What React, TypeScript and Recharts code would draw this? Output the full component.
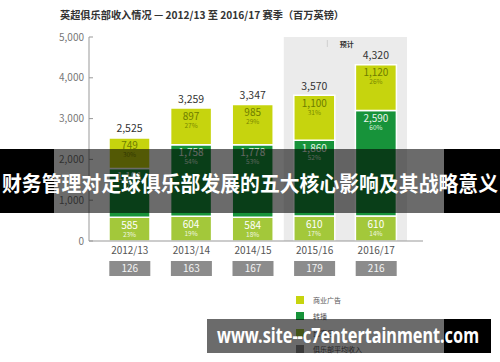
import React from 'react';
import { BarChart, Bar, XAxis, YAxis, ReferenceArea, LabelList } from 'recharts';

const seasons = ['2012/13', '2013/14', '2014/15', '2015/16', '2016/17'];
const matchday = [585, 604, 584, 610, 610];
const broadcast = [1191, 1758, 1778, 1860, 2590];
const commercial = [749, 897, 985, 1100, 1120];
const totals = [2525, 3259, 3347, 3570, 4320];
const matchdayPct = ['23%', '19%', '18%', '17%', '14%'];
const broadcastPct = ['47%', '54%', '53%', '52%', '60%'];
const commercialPct = ['30%', '27%', '29%', '31%', '26%'];
const avgClub = [126, 163, 167, 179, 216];
const yTicks = [0, 1000, 2000, 3000, 4000, 5000];
const legendItems = [
  { name: '商业广告', color: '#c6d40e' },
  { name: '转播', color: '#17933a' },
  { name: '比赛日', color: '#a3c83a' },
  { name: '俱乐部平均收入', color: '#8c8c8c' },
];
const titleText = '英超俱乐部收入情况 — 2012/13 至 2016/17 赛季（百万英镑）';
const forecastText = '预计';
const bannerText = '财务管理对足球俱乐部发展的五大核心影响及其战略意义';
const watermarkText = 'www.site--c7entertainment.com';

const data = seasons.map((s, i) => ({
  season: s,
  matchday: matchday[i],
  broadcast: broadcast[i],
  commercial: commercial[i],
}));

const FONT = '"Noto Sans CJK SC", "Noto Sans", sans-serif';
const fmt = (v: number) => v.toLocaleString('en-US');

const segLabel = (vals: number[], pcts: string[], color: string, pctColor: string) => (props: any) => {
  const { x, y, width, index } = props;
  const cx = Number(x) + Number(width) / 2;
  return (
    <g>
      <text x={cx} y={Number(y) + 11.5} textAnchor="middle" fontSize={10} fill={color} fontFamily={FONT}>
        {fmt(vals[index])}
      </text>
      <text x={cx} y={Number(y) + 19.5} textAnchor="middle" fontSize={6.5} fill={pctColor} fontFamily={FONT}>
        {pcts[index]}
      </text>
    </g>
  );
};

const totalLabel = (props: any) => {
  const { x, y, width, index } = props;
  return (
    <text x={Number(x) + Number(width) / 2} y={Number(y) - 5.5} textAnchor="middle" fontSize={10.5} fill="#333" fontFamily={FONT}>
      {fmt(totals[index])}
    </text>
  );
};

const XTick = (props: any) => {
  const { x, y, payload } = props;
  const i = payload.index;
  return (
    <g>
      <text x={x} y={y + 12.5} textAnchor="middle" fontSize={10} fill="#555" fontFamily={FONT}>
        {payload.value}
      </text>
      <rect x={x - 20.5} y={y + 20} width={41} height={15} fill="#8c8c8c" />
      <text x={x} y={y + 31} textAnchor="middle" fontSize={10} fill="#f4f4f4" fontFamily={FONT}>
        {avgClub[i]}
      </text>
    </g>
  );
};

const YTick = (props: any) => {
  const { x, y, payload } = props;
  return (
    <g>
      <text x={x - 1} y={y + 3.5} textAnchor="end" fontSize={10} fill="#777" fontFamily={FONT}>
        {fmt(payload.value)}
      </text>
      <line x1={x + 4} x2={x + 8} y1={y} y2={y} stroke="#999" strokeWidth={1} />
    </g>
  );
};

const ForecastLabel = (props: any) => {
  const vb = props.viewBox || {};
  const x = Number(vb.x);
  const y = Number(vb.y);
  return (
    <g>
      <line x1={x + 43.5} x2={x + 43.5} y1={y + 3} y2={y + 10} stroke="#cfcfcf" strokeWidth={1} />
      <text x={x + 56} y={y + 10} fontSize={7} fontWeight="bold" fill="#333" fontFamily={FONT}>
        {forecastText}
      </text>
    </g>
  );
};

const LegendBox = () => (
  <div style={{ position: 'absolute', left: 296, top: 292, fontFamily: FONT }}>
    {legendItems.map((it) => (
      <div key={it.name} style={{ display: 'flex', alignItems: 'center', height: 16.3 }}>
        <span style={{ display: 'inline-block', width: 8, height: 8, background: it.color, marginRight: 9 }} />
        <span style={{ fontSize: 7, color: '#555', lineHeight: '8px' }}>{it.name}</span>
      </div>
    ))}
  </div>
);

export default function App() {
  return (
    <div style={{ position: 'absolute', left: 0, top: 0, width: 500, height: 362, background: '#fff', overflow: 'hidden' }}>
      <BarChart
        width={500}
        height={362}
        data={data}
        margin={{ top: 37, right: 77, bottom: 91, left: 0 }}
        barSize={41}
      >
        <ReferenceArea
          x1="2015/16"
          x2="2016/17"
          y1={0}
          y2={5000}
          fill="#ebebeb"
          fillOpacity={1}
          stroke="none"
          ifOverflow="visible"
          label={<ForecastLabel />}
        />
        <XAxis
          dataKey="season"
          height={30}
          axisLine={{ stroke: '#999' }}
          tickLine={false}
          tickSize={0}
          tickMargin={0}
          padding={{ left: 10, right: 16 }}
          tick={<XTick />}
          interval={0}
        />
        <YAxis
          domain={[0, 5000]}
          ticks={yTicks}
          width={89}
          axisLine={{ stroke: '#999' }}
          tickLine={false}
          tickSize={0}
          tickMargin={4}
          tick={<YTick />}
          interval={0}
        />
        <Bar dataKey="matchday" stackId="a" fill="#a3c83a" stroke="#fff" strokeWidth={1.5} isAnimationActive={false}>
          <LabelList dataKey="matchday" content={segLabel(matchday, matchdayPct, '#ffffff', '#f0f6e0')} />
        </Bar>
        <Bar dataKey="broadcast" stackId="a" fill="#17933a" stroke="#fff" strokeWidth={1.5} isAnimationActive={false}>
          <LabelList dataKey="broadcast" content={segLabel(broadcast, broadcastPct, '#e8f4ea', '#d8eedc')} />
        </Bar>
        <Bar dataKey="commercial" stackId="a" fill="#c6d40e" stroke="#fff" strokeWidth={1.5} isAnimationActive={false}>
          <LabelList dataKey="commercial" content={segLabel(commercial, commercialPct, '#6e7d00', '#7a8a00')} />
          <LabelList dataKey="commercial" content={totalLabel} />
        </Bar>
      </BarChart>
      <LegendBox />
      <svg width={500} height={362} style={{ position: 'absolute', left: 0, top: 0, pointerEvents: 'none' }}>
        <text x={60} y={19} fontSize={10.5} fontWeight="bold" fill="#333" fontFamily={FONT} textLength={284} lengthAdjust="spacingAndGlyphs">
          {titleText}
        </text>
        <rect x={0} y={149} width={54} height={64} fill="#000" />
        <rect x={54} y={149} width={390} height={64} fill="#000" fillOpacity={0.58} />
        <rect x={444} y={149} width={56} height={64} fill="#000" />
        <text x={250} y={191} textAnchor="middle" fontSize={21} fontWeight="bold" fill="#fff" fontFamily={FONT} textLength={496} lengthAdjust="spacingAndGlyphs">
          {bannerText}
        </text>
        <rect x={207} y={319} width={237} height={34} fill="#000" fillOpacity={0.58} />
        <rect x={444} y={319} width={47} height={34} fill="#000" />
        <text x={217} y={343} fontSize={21} fontWeight="bold" fill="#fff" fontFamily='"Noto Sans", sans-serif' textLength={262} lengthAdjust="spacingAndGlyphs">
          {watermarkText}
        </text>
      </svg>
    </div>
  );
}
